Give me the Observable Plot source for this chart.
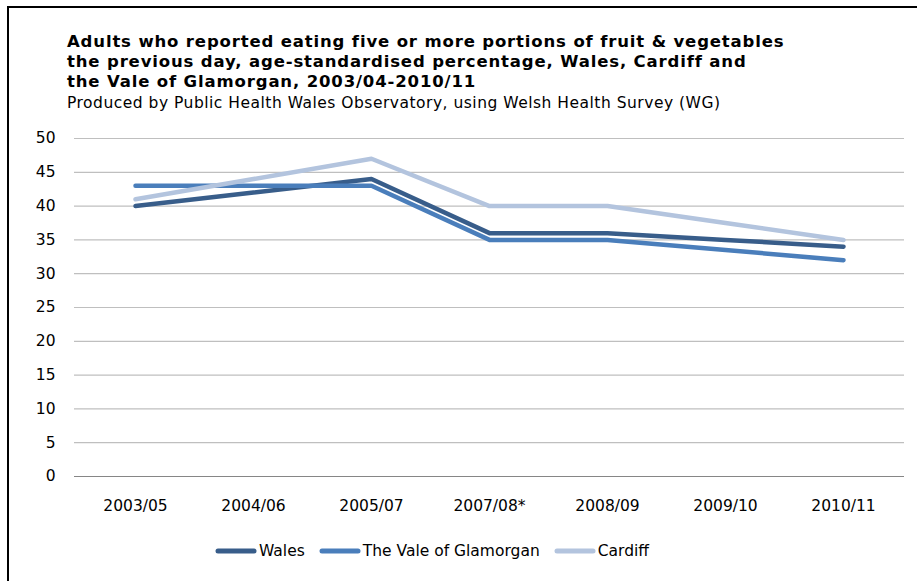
<!DOCTYPE html>
<html>
<head>
<meta charset="utf-8">
<script src="https://cdn.jsdelivr.net/npm/d3@7"></script>
<script src="https://cdn.jsdelivr.net/npm/@observablehq/plot@0.6"></script>
<style>
  html, body { margin: 0; padding: 0; background: #fff; }
  #root { position: relative; width: 917px; height: 581px; overflow: hidden; font-family: "DejaVu Sans", Verdana, sans-serif; color: #000; }
  #frame { position: absolute; left: 7px; top: 6px; width: 920px; height: 600px; border-left: 2px solid #000; border-top: 2px solid #000; }
  #title { position: absolute; left: 67px; top: 32px; font-weight: bold; font-size: 16.5px; letter-spacing: 0.85px; line-height: 20px; white-space: nowrap; }
  #subtitle { position: absolute; left: 67px; top: 93px; font-size: 15.5px; letter-spacing: 0.5px; line-height: 20px; white-space: nowrap; }
  #chart { position: absolute; left: 0; top: 120px; }
  #legend { position: absolute; left: 215px; top: 542px; display: flex; align-items: center; font-size: 15.5px; white-space: nowrap; }
  .item { display: flex; align-items: center; margin-right: 14px; }
  .item svg { margin-right: 2px; }
</style>
</head>
<body>
<div id="root">
  <div id="frame"></div>
  <div id="title">Adults who reported eating five or more portions of fruit &amp; vegetables<br>the previous day, age-standardised percentage, Wales, Cardiff and<br>the Vale of Glamorgan, 2003/04-2010/11</div>
  <div id="subtitle">Produced by Public Health Wales Observatory, using Welsh Health Survey (WG)</div>
  <div id="chart"></div>
  <div id="legend"></div>
</div>
<script>
const periods = ["2003/05", "2004/06", "2005/07", "2007/08*", "2008/09", "2009/10", "2010/11"];
const wales = [40, 42, 44, 36, 36, 35, 34];
const vale = [43, 43, 43, 35, 35, 33.5, 32];
const cardiff = [41, 44, 47, 40, 40, 37.5, 35];
const seriesNames = ["Wales", "The Vale of Glamorgan", "Cardiff"];
const seriesColors = ["#385D8A", "#4A7EBB", "#B3C4DE"];
const yTicks = [0, 5, 10, 15, 20, 25, 30, 35, 40, 45, 50];

const seriesValues = [wales, vale, cardiff];
const rows = [];
seriesNames.forEach((name, s) => {
  periods.forEach((p, i) => rows.push({series: name, period: p, value: seriesValues[s][i]}));
});

const chart = Plot.plot({
  width: 917,
  height: 400,
  marginLeft: 74,
  marginRight: 13,
  marginTop: 18,
  marginBottom: 44,
  style: {fontFamily: "DejaVu Sans, Verdana, sans-serif", fontSize: "15.5px", color: "#000", background: "transparent"},
  x: {type: "point", domain: periods, padding: 0.5},
  y: {domain: [0, 50]},
  color: {domain: seriesNames, range: seriesColors},
  marks: [
    Plot.ruleY(yTicks.filter(d => d > 0), {stroke: "#BFBFBF", strokeWidth: 1.2}),
    Plot.ruleY([0], {stroke: "#868686", strokeWidth: 1.2}),
    Plot.axisY({ticks: yTicks, tickSize: 0, tickPadding: 19, fontSize: 15.5, label: null}),
    Plot.axisX({tickSize: 0, tickPadding: 23, fontSize: 15.5, label: null}),
    Plot.line(rows, {x: "period", y: "value", z: "series", stroke: "series", strokeWidth: 4.5, strokeLinecap: "round", strokeLinejoin: "round"})
  ]
});
document.getElementById("chart").appendChild(chart);

const legend = document.getElementById("legend");
seriesNames.forEach((name, i) => {
  const item = document.createElement("div");
  item.className = "item";
  item.innerHTML = `<svg width="42" height="10"><line x1="3" y1="5" x2="39" y2="5" stroke="${seriesColors[i]}" stroke-width="5" stroke-linecap="round"/></svg><span>${name}</span>`;
  legend.appendChild(item);
});
</script>
</body>
</html>
